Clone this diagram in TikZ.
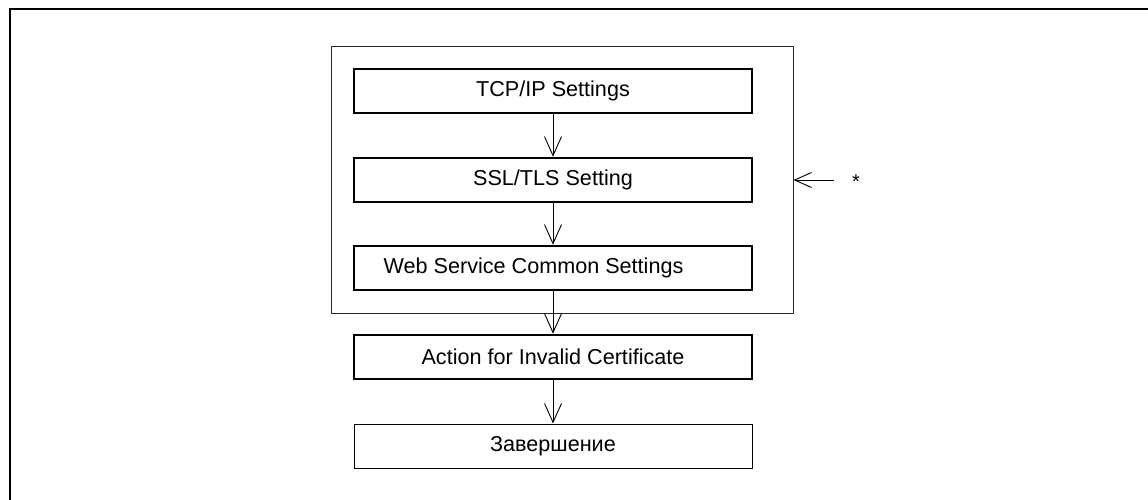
\documentclass[tikz,border=0pt]{standalone}
\usepackage{fontspec}
\setmainfont{Liberation Sans}
\usetikzlibrary{arrows.meta}
\begin{document}
\begin{tikzpicture}[x=1pt,y=-1pt,
  stepbox/.style={draw, line width=2.6pt, minimum width=398pt, minimum height=44pt, inner sep=0pt, font=\fontsize{21.6}{25}\selectfont},
  endbox/.style={draw, line width=1pt, minimum width=398pt, minimum height=44pt, inner sep=0pt, font=\fontsize{21.6}{25}\selectfont},
  conn/.style={line width=0.9pt, -{Straight Barb[length=19pt,width=17pt,line width=0.9pt]}},
  frameline/.style={line width=2.6pt}]
\useasboundingbox (0,0) rectangle (1148,500);
\draw[frameline] (10,500) -- (10,9) -- (1148,9);
\node[draw, line width=1pt, black!85, minimum width=462pt, minimum height=266pt, inner sep=0pt] (grp) at (562,180) {};
\node[stepbox] (tcp) at (553,91) {TCP/IP Settings};
\node[stepbox] (ssl) at (553,180) {SSL/TLS Setting};
\node[stepbox] (web) at (553,268) {\hspace*{-39pt}Web Service Common Settings};
\node[stepbox] (act) at (553,357) {Action for Invalid Certificate};
\node[endbox] (fin) at (553,446) {Завершение};
\node[font=\fontsize{20}{24}\selectfont] (star) at (856,182) {*};
\coordinate (src) at (834,180);
\draw[conn] (tcp) -- (ssl);
\draw[conn] (ssl) -- (web);
\draw[conn] (web) -- (act);
\draw[conn] (act) -- (fin);
\draw[line width=0.9pt, -{Straight Barb[length=17pt,width=15pt,line width=0.9pt]}] (src) -- (grp.east |- src);
\end{tikzpicture}
\end{document}
